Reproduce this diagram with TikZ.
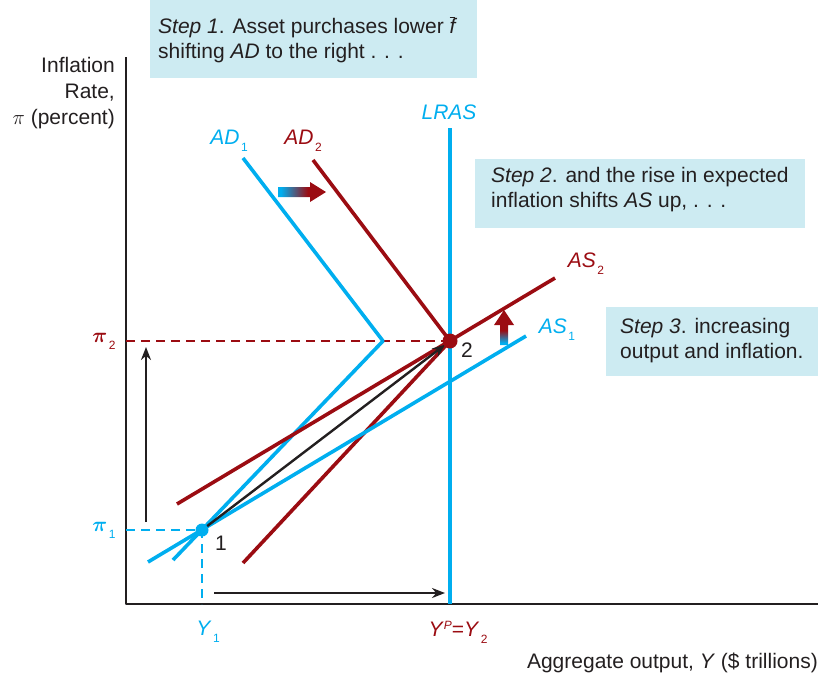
\documentclass[tikz,border=0pt]{standalone}
\usepackage{bm}
\usepackage{fontspec}
\setmainfont{Liberation Sans}
\usetikzlibrary{arrows.meta}
\definecolor{adasCyan}{RGB}{0,174,239}
\definecolor{adasRed}{RGB}{155,12,18}
\definecolor{adasBox}{RGB}{205,235,242}
\definecolor{adasInk}{RGB}{35,31,32}
\pgfdeclarehorizontalshading{adasShiftH}{100bp}{color(0bp)=(adasCyan); color(28bp)=(adasCyan); color(56bp)=(adasRed); color(100bp)=(adasRed)}
\pgfdeclareverticalshading{adasShiftV}{100bp}{color(0bp)=(adasCyan); color(28bp)=(adasCyan); color(46bp)=(adasRed); color(100bp)=(adasRed)}
\newcommand{\lowidx}[1]{\kern1.5pt\raisebox{-7pt}{\fontsize{12}{12}\selectfont #1}}
\newcommand{\highidx}[1]{\raisebox{7pt}{\fontsize{12}{12}\selectfont\itshape #1}}
\begin{document}
\begin{tikzpicture}
% AD/AS graph laid out in pixel units (y grows downwards)
\def\pxsz{1pt}
\providecommand{\adasCurveWidth}{3.6pt}
\providecommand{\adasArrowWidth}{2.4pt}
\providecommand{\adasAxisWidth}{1.4pt}
\begin{scope}[x=\pxsz, y=-\pxsz, line join=round,
  cyancurve/.style={draw=adasCyan, line width=\adasCurveWidth},
  redcurve/.style={draw=adasRed, line width=\adasCurveWidth},
  movearrow/.style={draw=adasInk, line width=\adasArrowWidth, -{Stealth[length=13pt,width=10pt]}},
  guide/.style={line width=1.3pt, dash pattern=on 9pt off 6pt},
  txt/.style={font=\fontsize{21}{25}\selectfont, text=adasInk, inner sep=0pt},
  steptext/.style={txt, align=left, anchor=west}]
  \useasboundingbox (0,0) rectangle (818,675);
  % Equilibrium points
  \coordinate (p1) at (202,530);
  \coordinate (p2) at (450,341);
  % Step boxes
  \fill[adasBox] (150,0) rectangle (477,78);
  \fill[adasBox] (475,159) rectangle (805,228);
  \fill[adasBox] (606,307) rectangle (818,376);
  \node[steptext] (step1) at (158,40) {\textit{Step 1}. Asset purchases lower $\overline{\mbox{\itshape f}}$\\shifting \textit{AD} to the right . . .};
  \node[steptext] (step2) at (491,190) {\textit{Step 2}. and the rise in expected\\inflation shifts \textit{AS} up, . . .};
  \node[steptext] (step3) at (620,341) {\textit{Step 3}. increasing\\output and inflation.};
  % Axes
  \draw[adasInk, line width=\adasAxisWidth] (126,57) -- (126,604) -- (818,604);
  \node[txt, align=right, anchor=east, font=\fontsize{21}{26}\selectfont] (ylab) at (115,93) {Inflation\\Rate,\\$\pi$ (percent)};
  \node[txt, anchor=east] (xlab) at (818,663) {Aggregate output, \textit{Y} (\$ trillions)};
  % Guide lines to the axes
  \draw[adasRed, guide] (126,341) -- (p2);
  \draw[adasCyan, guide] (126,530) -- (p1) -- (202,604);
  % Curves
  \draw[cyancurve] (450,128) -- (450,604);
  \draw[cyancurve] (243,158) -- (383,341) -- (173,560);
  \draw[redcurve] (313,160) -- (p2) -- (243,563);
  \draw[cyancurve] (148,562) -- (526,336);
  \draw[redcurve] (177,504) -- (555,278);
  % Movement arrows
  \draw[movearrow] (146,522) -- (146,347);
  \draw[movearrow] (214,593) -- (445,593);
  \draw[movearrow, shorten >=6pt] (p1) -- (p2);
  \shade[shading=adasShiftH] (278,187) -- (310,187) -- (310,182) -- (326,192) -- (310,202) -- (310,197) -- (278,197) -- cycle;
  \shade[shading=adasShiftV] (500,345) -- (500,325) -- (494,325) -- (504,310) -- (514,325) -- (508,325) -- (508,345) -- cycle;
  % Points
  \fill[adasCyan] (p1) circle (6.5);
  \fill[adasRed] (p2) circle (7.5);
  \node[txt] (n1) at (221,543) {1};
  \node[txt] (n2) at (467,350) {2};
  % Curve labels
  \node[txt, text=adasCyan] (lras) at (449,112) {\textit{LRAS}};
  \node[txt, text=adasCyan] (ad1) at (229,141) {\textit{AD}\lowidx{1}};
  \node[txt, text=adasRed] (ad2) at (303,141) {\textit{AD}\lowidx{2}};
  \node[txt, text=adasRed] (as2) at (586,264) {\textit{AS}\lowidx{2}};
  \node[txt, text=adasCyan] (as1) at (557,330) {\textit{AS}\lowidx{1}};
  % Axis values
  \node[txt, text=adasRed] (pi2) at (104,341) {$\bm{\pi}$\lowidx{2}};
  \node[txt, text=adasCyan] (pi1) at (104,530) {$\bm{\pi}$\lowidx{1}};
  \node[txt, text=adasCyan] (y1) at (208,632) {\textit{Y}\lowidx{1}};
  \node[txt, text=adasRed] (y2) at (458,632) {\textit{Y}\highidx{P}=\textit{Y}\lowidx{2}};
\end{scope}
\end{tikzpicture}
\end{document}
